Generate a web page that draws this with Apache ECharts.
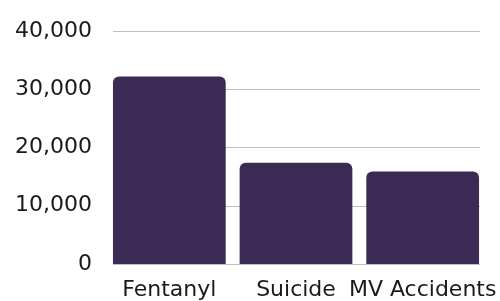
<!DOCTYPE html>
<html>
<head>
<meta charset="utf-8">
<script src="https://cdn.jsdelivr.net/npm/echarts@6/dist/echarts.min.js"></script>
<style>html,body{margin:0;padding:0;background:#fff}#c{width:500px;height:301px}</style>
</head>
<body>
<div id="c"></div>
<script>
const categories = ["Fentanyl", "Suicide", "MV Accidents"];
const deaths = [32200, 17400, 15900];
const yTicks = [0, 10000, 20000, 30000, 40000];

const chart = echarts.init(document.getElementById('c'), null, {renderer: 'canvas'});
const fmt = v => v.toLocaleString('en-US');
const font = '"DejaVu Sans", sans-serif';
chart.setOption({
  animation: false,
  grid: [
    {left: 106, right: 14, top: 31, bottom: 37},
    {left: 113, right: 20, top: 31, bottom: 37}
  ],
  xAxis: [
    {type: 'category', gridIndex: 0, data: categories,
     axisLine: {show: false}, axisTick: {show: false},
     axisLabel: {interval: 0, color: '#1a1a1a', fontSize: 22, fontFamily: font, margin: 15}},
    {type: 'category', gridIndex: 1, data: categories, show: false}
  ],
  yAxis: [
    {type: 'value', gridIndex: 0, min: yTicks[0], max: yTicks[yTicks.length-1], interval: 10000,
     splitLine: {show: false}, axisLine: {show: false}, axisTick: {show: false},
     axisLabel: {color: '#1a1a1a', fontSize: 22, fontFamily: font, margin: 14, formatter: fmt}},
    {type: 'value', gridIndex: 1, min: yTicks[0], max: yTicks[yTicks.length-1], interval: 10000,
     axisLine: {show: false}, axisTick: {show: false}, axisLabel: {show: false},
     splitLine: {show: true, lineStyle: {color: '#bdbdbd', width: 1}}}
  ],
  series: [{
    type: 'bar', xAxisIndex: 0, yAxisIndex: 0, data: deaths,
    barCategoryGap: '11%',
    itemStyle: {color: '#3b2a53', borderRadius: [6, 6, 0, 0]}
  }]
});
</script>
</body>
</html>
